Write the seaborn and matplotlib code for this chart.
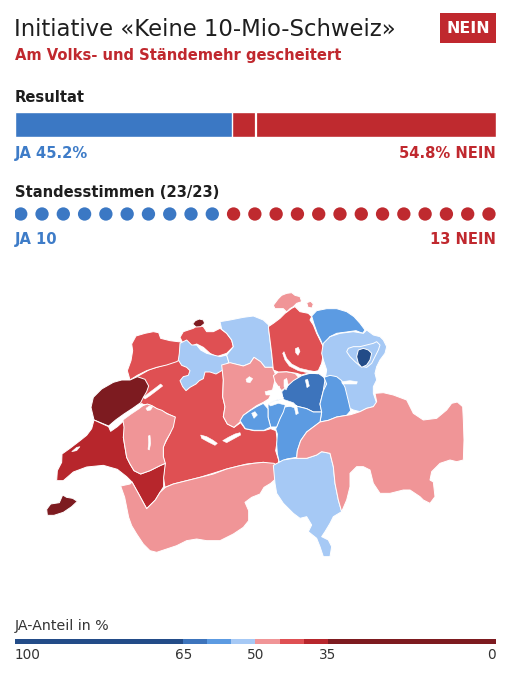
import matplotlib
matplotlib.use("Agg")
import matplotlib.pyplot as plt
import seaborn as sns
import pandas as pd
import numpy as np
from matplotlib.patches import Rectangle
from matplotlib.colors import ListedColormap, BoundaryNorm

# ---------------- data ----------------
TITLE = "Initiative «Keine 10-Mio-Schweiz»"
SUBTITLE = "Am Volks- und Ständemehr gescheitert"
RESULT_LABEL = "NEIN"
JA_PCT = 45.2
NEIN_PCT = 54.8
STAENDE_JA = 10
STAENDE_NEIN = 13

BIN_EDGES = [0, 35, 40, 45, 50, 55, 60, 65, 100]
BIN_COLORS = ["#7d1b20", "#b7262c", "#df5053", "#f09597",
              "#a6c9f5", "#5c9be2", "#3d74bc", "#234c88"]
LEGEND_TICKS = [100, 65, 50, 35, 0]

CANTONS = ["BE", "JU", "BL", "BS", "SO", "AG", "NE", "VD", "GE", "FR", "VS",
           "LU", "ZG", "ZH", "SZ", "SH", "SH2", "TG", "SG", "AR", "AI", "GL",
           "UR", "NW", "OW", "TI", "GR"]
JA_SHARE = [43.5, 42.0, 42.5, 33.0, 51.5, 53.0, 33.5, 37.5, 32.0, 47.0, 47.5,
            48.5, 46.5, 43.0, 62.0, 48.0, 48.0, 57.5, 53.5, 53.0, 67.0, 57.0,
            57.0, 58.0, 57.5, 52.5, 47.0]

# canton outlines (map units)
BE = [(300,300),(330,285),(360,268),(400,256),(440,242),(470,242),(500,262),(520,255),(560,252),(578,262),(580,300),(578,350),(585,380),(580,410),(592,432),(612,442),(632,428),(645,446),(672,452),(702,452),(722,446),(738,452),(742,480),(737,512),(746,540),(745,558),(700,547),(650,552),(590,567),(510,592),(430,612),(405,622),(400,592),(405,552),(400,530),(400,500),(420,460),(435,412),(410,400),(380,386),(362,376),(330,372),(300,357)]
JU = [(305,192),(318,168),(345,160),(370,155),(386,158),(392,175),(420,182),(452,186),(466,202),(460,232),(440,245),(410,255),(380,262),(350,272),(322,286),(300,300),(292,272),(303,242),(308,212)]
BL = [(450,172),(460,155),(490,145),(505,135),(520,140),(530,155),(550,155),(570,145),(590,160),(605,180),(610,200),(590,220),(560,230),(540,220),(520,202),(500,192),(480,200),(460,192)]
BS = [(488,132),(496,122),(508,117),(520,120),(524,130),(512,140),(498,141)]
SO = [(450,190),(470,180),(485,195),(500,195),(512,210),(530,220),(550,225),(570,230),(590,225),(596,245),(590,262),(575,272),(558,282),(540,276),(525,276),(520,296),(508,302),(498,312),(480,322),(468,332),(458,320),(450,302),(460,290),(475,286),(480,272),(470,262),(455,256),(445,240),(448,220)]
AG = [(570,125),(600,120),(640,112),(670,108),(700,120),(716,135),(716,148),(720,180),(725,222),(730,262),(705,262),(692,246),(672,232),(660,250),(640,258),(600,249),(590,262),(596,245),(590,225),(610,200),(605,180),(590,160),(575,148)]
NE = [(183,382),(190,352),(215,327),(250,307),(275,300),(300,300),(322,290),(345,298),(356,318),(350,335),(340,352),(332,368),(308,385),(282,402),(257,420),(236,438),(192,420)]
VD = [(80,602),(82,572),(95,547),(96,522),(120,505),(150,482),(170,466),(185,446),(192,420),(236,440),(242,454),(262,440),(282,422),(300,406),(290,450),(280,472),(285,502),(290,532),(300,552),(312,572),(332,582),(360,572),(390,557),(406,550),(401,592),(401,620),(390,637),(376,660),(350,686),(326,642),(306,606),(290,590),(262,568),(220,556),(170,561),(130,576),(100,602)]
GE = [(50,688),(62,672),(88,668),(98,645),(110,652),(128,655),(142,664),(125,680),(100,697),(72,706),(52,706)]
FR = [(278,414),(300,400),(320,388),(336,378),(352,372),(366,377),(381,386),(396,391),(411,401),(436,411),(430,441),(420,461),(408,482),(400,502),(400,530),(406,550),(390,557),(360,572),(332,582),(312,572),(300,552),(290,532),(285,502),(280,472),(282,442)]
VS = [(272,618),(300,612),(306,606),(326,642),(350,686),(376,660),(390,637),(406,622),(430,612),(470,602),(510,592),(550,582),(590,567),(630,557),(670,550),(700,547),(732,550),(748,562),(742,592),(722,610),(702,622),(690,642),(665,652),(645,667),(656,692),(656,722),(640,742),(610,762),(570,782),(530,782),(500,777),(470,782),(440,797),(410,807),(380,817),(360,812),(340,792),(320,762),(305,737),(296,712),(290,682),(284,652)]
LU = [(575,255),(600,248),(640,258),(660,250),(672,232),(692,245),(705,262),(728,262),(738,287),(732,312),(726,337),(716,357),(700,367),(680,377),(660,391),(640,406),(630,426),(612,442),(592,432),(580,410),(585,380),(578,350),(580,300)]
ZG = [(730,287),(745,276),(770,275),(795,280),(806,292),(790,306),(770,320),(755,332),(745,320),(735,305)]
ZH = [(715,140),(730,130),(750,115),(765,100),(785,85),(795,80),(810,95),(835,100),(845,110),(840,120),(850,135),(860,160),(870,180),(880,200),(880,222),(875,250),(865,272),(840,278),(815,285),(800,280),(770,275),(745,276),(730,270),(725,220),(720,180)]
SZ = [(755,335),(770,320),(790,302),(815,287),(840,280),(865,280),(882,292),(890,312),(880,332),(875,352),(870,372),(875,396),(850,396),(830,386),(810,381),(790,376),(770,376),(760,360)]
SH = [(730,76),(745,56),(755,46),(770,40),(785,38),(795,46),(810,50),(815,65),(800,70),(790,80),(780,86),(770,96),(760,86),(745,86),(735,86)]
SH2 = [(830,68),(842,64),(850,72),(846,84),(834,82)]
TG = [(845,108),(860,92),(890,86),(920,86),(950,95),(972,110),(990,130),(1005,150),(998,160),(978,152),(950,156),(920,160),(900,170),(888,188),(880,200),(872,180),(862,160),(852,132)]
SG = [(880,190),(900,170),(930,160),(970,155),(1000,160),(1010,150),(1030,165),(1050,170),(1060,180),(1070,200),(1065,220),(1050,240),(1040,260),(1035,280),(1040,300),(1030,320),(1030,340),(1040,370),(1030,380),(1010,385),(990,395),(970,390),(950,380),(940,370),(920,360),(890,350),(880,330),(885,300),(890,270),(880,240),(875,220)]
AR = [(955,205),(970,200),(990,200),(1010,195),(1030,190),(1040,185),(1050,195),(1045,210),(1035,230),(1025,250),(1010,262),(990,258),(975,245),(960,230),(950,215)]
AI = [(985,210),(1000,205),(1015,210),(1025,220),(1020,240),(1010,255),(995,262),(985,250),(980,230)]
GL = [(882,292),(900,286),(920,290),(935,302),(945,322),(950,342),(955,362),(962,392),(950,406),(920,411),(895,421),(870,426),(875,396),(870,372),(875,352),(880,332),(890,312)]
UR = [(760,382),(790,376),(810,381),(830,386),(850,396),(875,396),(870,426),(850,441),(830,456),(812,482),(802,512),(800,532),(770,537),(748,547),(742,522),(740,492),(742,462),(737,447),(747,422),(755,402)]
NW = [(714,372),(735,361),(756,356),(766,376),(760,396),(750,416),(740,441),(722,441),(714,411)]
OW = [(630,422),(640,406),(660,392),(680,380),(700,370),(714,386),(714,411),(722,441),(702,451),(672,451),(646,446)]
TI = [(730,556),(760,540),(790,535),(830,535),(860,525),(875,515),(900,520),(910,560),(915,610),(925,660),(935,695),(910,710),(900,730),(885,755),(875,770),(895,780),(905,800),(900,830),(880,830),(870,800),(860,775),(835,755),(845,735),(830,710),(810,715),(790,700),(760,670),(740,640),(735,610)]
GR = [(800,535),(802,512),(812,482),(830,456),(850,441),(870,426),(895,421),(920,411),(950,406),(962,404),(990,395),(1010,385),(1030,380),(1040,365),(1035,340),(1060,338),(1090,345),(1130,360),(1150,400),(1180,420),(1220,415),(1250,390),(1265,370),(1282,366),(1298,380),(1300,420),(1302,480),(1300,540),(1280,545),(1260,540),(1230,550),(1205,575),(1200,600),(1210,606),(1215,650),(1200,670),(1180,660),(1170,650),(1140,630),(1120,630),(1080,640),(1050,640),(1030,610),(1020,570),(1000,560),(980,560),(960,580),(960,620),(950,660),(935,695),(925,660),(915,610),(910,560),(900,520),(875,515),(860,525),(830,535)]

LAKES = [
    [(236,440),(250,428),(272,412),(298,394),(322,378),(336,370),(340,376),(328,386),(304,402),(282,418),(260,436),(242,452)],
    [(340,352),(355,340),(375,325),(392,312),(398,318),(380,332),(360,347),(345,357)],
    [(348,385),(358,378),(368,380),(362,390),(352,392)],
    [(512,465),(530,470),(548,480),(562,490),(555,496),(535,486),(515,475)],
    [(578,482),(595,472),(615,462),(630,458),(632,465),(612,476),(590,488)],
    [(762,215),(770,235),(785,252),(810,265),(840,272),(865,276),(865,282),(840,280),(805,272),(778,258),(765,240),(758,220)],
    [(796,206),(805,202),(810,214),(804,226),(797,218)],
    [(705,335),(725,330),(745,345),(760,352),(758,360),(740,355),(722,345),(708,345)],
    [(740,320),(748,318),(752,340),(745,345)],
    [(715,372),(735,362),(760,358),(790,368),(800,378),(795,384),(770,376),(745,370),(722,378)],
    [(792,378),(800,376),(805,400),(798,404)],
    [(762,300),(770,295),(775,315),(768,330),(762,320)],
    [(648,298),(658,290),(668,296),(660,308),(650,306)],
    [(935,305),(960,302),(982,305),(980,312),(958,312),(937,312)],
    [(355,468),(360,466),(362,490),(358,510),(354,508),(356,488)],
    [(826,300),(833,298),(838,318),(831,323)],
    [(665,400),(675,395),(682,405),(672,415)],
    [(125,515),(140,502),(150,500),(140,512)],
]

# ---------------- style ----------------
BLUE = "#3b78c4"
RED = "#bf2a2f"
BLUE_TXT = "#3e7cc8"
RED_TXT = "#c0282e"
DARK = "#1e1e1e"
BOLD = 10.6

sns.set_theme(style="white")
plt.rcParams["font.family"] = ["DejaVu Sans"]

W, H = 515, 680
fig = plt.figure(figsize=(W / 100, H / 100), dpi=100)
fig.patch.set_facecolor("white")


def px_axes(x0, y0, x1, y1):
    a = fig.add_axes([x0 / W, 1 - y1 / H, (x1 - x0) / W, (y1 - y0) / H])
    a.set_facecolor("none")
    return a


bg = px_axes(0, 0, W, H)
bg.set_xlim(0, W)
bg.set_ylim(H, 0)
bg.axis("off")

# header
bg.text(14, 36, TITLE, fontsize=16.4, color=DARK, ha="left", va="baseline")
bg.text(15, 60, SUBTITLE, fontsize=BOLD, color=RED_TXT, fontweight="bold", ha="left", va="baseline")
bg.add_patch(Rectangle((440, 13), 56, 30, color=RED_TXT, lw=0))
bg.text(468, 28.5, RESULT_LABEL, fontsize=11.3, color="white", fontweight="bold", ha="center", va="center")

# result bar
bg.text(15, 102, "Resultat", fontsize=BOLD, color=DARK, fontweight="bold", ha="left", va="baseline")
ax_bar = px_axes(15, 112, 496, 137)
res = pd.DataFrame({"lbl": ["Resultat"], "total": [JA_PCT + NEIN_PCT], "ja": [JA_PCT]})
sns.barplot(data=res, x="total", y="lbl", color=RED, saturation=1, width=1, ax=ax_bar)
sns.barplot(data=res, x="ja", y="lbl", color=BLUE, saturation=1, width=1, ax=ax_bar)
ax_bar.axvline(50, color="white", lw=1.6)
ax_bar.set_xlim(0, 100)
ax_bar.set_ylim(0.5, -0.5)
ax_bar.axis("off")
bg.text(15, 158, f"JA {JA_PCT:.1f}%", fontsize=BOLD, color=BLUE_TXT, fontweight="bold", ha="left", va="baseline")
bg.text(496, 158, f"{NEIN_PCT:.1f}% NEIN", fontsize=BOLD, color=RED_TXT, fontweight="bold", ha="right", va="baseline")

# Standesstimmen dots
total = STAENDE_JA + STAENDE_NEIN
bg.text(15, 197, f"Standesstimmen ({total}/{total})", fontsize=BOLD, color=DARK, fontweight="bold", ha="left", va="baseline")
ax_dots = px_axes(15, 204, 496, 224)
dots = pd.DataFrame({"idx": np.arange(total), "y": 0,
                     "res": ["JA"] * STAENDE_JA + ["NEIN"] * STAENDE_NEIN})
sns.scatterplot(data=dots, x="idx", y="y", hue="res", palette={"JA": BLUE, "NEIN": RED},
                s=92, edgecolor="none", legend=False, ax=ax_dots)
ax_dots.set_xlim(-0.27, total - 1 + 0.33)
ax_dots.set_ylim(-1, 1)
ax_dots.axis("off")
bg.text(15, 244, f"JA {STAENDE_JA}", fontsize=BOLD, color=BLUE_TXT, fontweight="bold", ha="left", va="baseline")
bg.text(496, 244, f"{STAENDE_NEIN} NEIN", fontsize=BOLD, color=RED_TXT, fontweight="bold", ha="right", va="baseline")

# map
cmap = ListedColormap(BIN_COLORS)
norm = BoundaryNorm(BIN_EDGES, cmap.N)
outlines = {"BE": BE, "JU": JU, "BL": BL, "BS": BS, "SO": SO, "AG": AG, "NE": NE,
            "VD": VD, "GE": GE, "FR": FR, "VS": VS, "LU": LU, "ZG": ZG, "ZH": ZH,
            "SZ": SZ, "SH": SH, "SH2": SH2, "TG": TG, "SG": SG, "AR": AR, "AI": AI,
            "GL": GL, "UR": UR, "NW": NW, "OW": OW, "TI": TI, "GR": GR}
ax_map = px_axes(30, 280, 480, 580)
for code, val in zip(CANTONS, JA_SHARE):
    pts = np.array(outlines[code])
    ax_map.fill(pts[:, 0], pts[:, 1], facecolor=cmap(norm(val)), edgecolor="white",
                linewidth=0.7, joinstyle="round")
for lake in LAKES:
    pts = np.array(lake)
    ax_map.fill(pts[:, 0], pts[:, 1], facecolor="white", edgecolor="white", linewidth=0.4)
ax_map.set_xlim(0, 1350)
ax_map.set_ylim(900, 0)
ax_map.axis("off")

# legend
bg.text(15, 630, "JA-Anteil in %", fontsize=10.2, color="#333333", ha="left", va="baseline")
ax_leg = px_axes(15, 639, 496, 644)
for lo, hi, col in zip(BIN_EDGES[:-1], BIN_EDGES[1:], BIN_COLORS):
    ax_leg.barh(0, hi - lo, left=lo, height=1, color=col, lw=0)
ax_leg.set_xlim(100, 0)
ax_leg.set_ylim(-0.5, 0.5)
ax_leg.set_yticks([])
ax_leg.set_xticks(LEGEND_TICKS)
ax_leg.set_xticklabels([str(t) for t in LEGEND_TICKS], fontsize=9.8, color="#333333")
ax_leg.tick_params(axis="x", length=0, pad=3)
labs = ax_leg.get_xticklabels()
labs[0].set_ha("left")
labs[-1].set_ha("right")
for s in ax_leg.spines.values():
    s.set_visible(False)

fig.savefig("out.png", dpi=100, facecolor="white")
